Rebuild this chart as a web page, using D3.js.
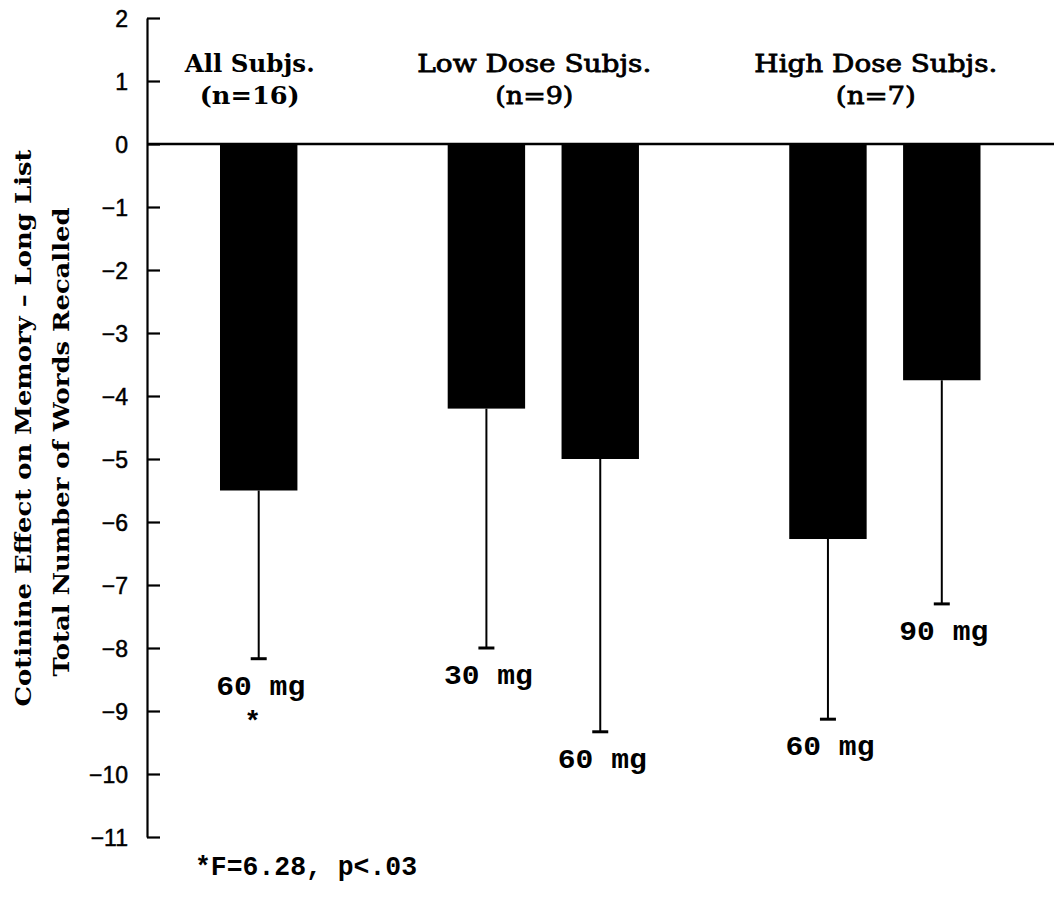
<!DOCTYPE html>
<html>
<head>
<meta charset="utf-8">
<script src="https://cdn.jsdelivr.net/npm/d3@7"></script>
<style>
  html, body { margin: 0; padding: 0; background: #fff; }
  svg { display: block; }
</style>
</head>
<body>
<script>
// ---------------- data ----------------
const groupNames   = ["All Subjs.", "Low Dose Subjs.", "High Dose Subjs."];
const groupCounts  = ["(n=16)", "(n=9)", "(n=7)"];
const groupBars    = [["All-60"], ["Low-30", "Low-60"], ["High-60", "High-90"]];
const barIds       = ["All-60", "Low-30", "Low-60", "High-60", "High-90"];
const doseLabels   = ["60 mg", "30 mg", "60 mg", "60 mg", "90 mg"];
const meanValues   = [-5.5, -4.2, -5.0, -6.27, -3.75];
const errorLower   = [-8.17, -8.0, -9.33, -9.13, -7.3];
const yTickValues  = [2, 1, 0, -1, -2, -3, -4, -5, -6, -7, -8, -9, -10, -11];
const significant  = [true, false, false, false, false];
const yTitleLines  = ["Cotinine Effect on Memory \u2013 Long List", "Total Number of Words Recalled"];
const footnote     = "*F=6.28, p<.03";

// slots: bars plus spacer slots between groups
const slots = [];
groupBars.forEach((g, i) => { if (i > 0) slots.push("gap" + i); g.forEach(b => slots.push(b)); });

const W = 1054, H = 903;
const svg = d3.select("body").append("svg").attr("width", W).attr("height", H);

const axisX = 147;
const y = d3.scaleLinear().domain([-11, 2]).range([837, 18]);
const x = d3.scaleBand().domain(slots).range([220, 980.5]).paddingInner(0.32).paddingOuter(0);

const serif = "'DejaVu Serif', serif";
const mono  = "'Liberation Mono', 'DejaVu Sans Mono', monospace";
const sans  = "'Liberation Sans', Arial, sans-serif";

// ---------- y axis ----------
const yAxis = d3.axisLeft(y).tickValues(yTickValues).tickSizeInner(-13).tickSizeOuter(0).tickPadding(19)
  .tickFormat(d3.format("d"));
const gAxis = svg.append("g").attr("transform", `translate(${axisX},0)`).call(yAxis);
gAxis.select(".domain").attr("stroke", "#000").attr("stroke-width", 2.2);
gAxis.selectAll(".tick line").attr("stroke", "#000").attr("stroke-width", 2.2);
gAxis.selectAll(".tick text").attr("fill", "#000").attr("font-family", sans).attr("font-size", 23)
  .attr("stroke", "#000").attr("stroke-width", 0.5).attr("dy", "0.36em");

// zero line
svg.append("line").attr("x1", axisX).attr("x2", W).attr("y1", y(0)).attr("y2", y(0))
  .attr("stroke", "#000").attr("stroke-width", 2.6);

// ---------- bars ----------
const bars = barIds.map((id, i) => ({ id, mean: meanValues[i], low: errorLower[i], label: doseLabels[i], sig: significant[i] }));

svg.append("g").selectAll("rect").data(bars).join("rect")
  .attr("x", d => x(d.id)).attr("width", x.bandwidth())
  .attr("y", y(0)).attr("height", d => y(d.mean) - y(0))
  .attr("fill", "#000");

// error bars (downward only)
const eg = svg.append("g");
eg.selectAll("line.err").data(bars).join("line").attr("class", "err")
  .attr("x1", d => x(d.id) + x.bandwidth() / 2).attr("x2", d => x(d.id) + x.bandwidth() / 2)
  .attr("y1", d => y(d.mean)).attr("y2", d => y(d.low))
  .attr("stroke", "#000").attr("stroke-width", 2);
eg.selectAll("line.cap").data(bars).join("line").attr("class", "cap")
  .attr("x1", d => x(d.id) + x.bandwidth() / 2 - 8).attr("x2", d => x(d.id) + x.bandwidth() / 2 + 8)
  .attr("y1", d => y(d.low)).attr("y2", d => y(d.low))
  .attr("stroke", "#000").attr("stroke-width", 3);

// dose labels
svg.append("g").selectAll("text").data(bars).join("text")
  .attr("x", d => x(d.id) + x.bandwidth() / 2 + 2)
  .attr("y", d => y(d.low) + 36)
  .attr("text-anchor", "middle")
  .attr("font-family", mono).attr("font-weight", "bold").attr("font-size", 28)
  .attr("textLength", 89).attr("lengthAdjust", "spacingAndGlyphs")
  .text(d => d.label);

// significance asterisk
svg.append("g").selectAll("text").data(bars.filter(d => d.sig)).join("text")
  .attr("x", d => x(d.id) + x.bandwidth() / 2 - 6)
  .attr("y", d => y(d.low) + 71)
  .attr("text-anchor", "middle")
  .attr("font-family", mono).attr("font-weight", "bold").attr("font-size", 28)
  .text("*");

// ---------- group headers ----------
const headerWidths = [130, 234, 243];
const countWidths = [100, 78, 80];
groupNames.forEach((name, i) => {
  const ids = groupBars[i];
  const cx = (x(ids[0]) + x(ids[ids.length - 1]) + x.bandwidth()) / 2 - 9;
  const bold = i === 0;
  svg.append("text").attr("x", cx).attr("y", 72).attr("text-anchor", "middle")
    .attr("font-family", serif).attr("font-size", 24).attr("font-weight", bold ? "bold" : "normal")
    .attr("stroke", "#000").attr("stroke-width", bold ? 0 : 0.8)
    .attr("textLength", headerWidths[i]).attr("lengthAdjust", "spacingAndGlyphs")
    .text(name);
  svg.append("text").attr("x", cx).attr("y", 104).attr("text-anchor", "middle")
    .attr("font-family", serif).attr("font-size", 24).attr("font-weight", bold ? "bold" : "normal")
    .attr("stroke", "#000").attr("stroke-width", bold ? 0 : 0.8)
    .attr("textLength", countWidths[i]).attr("lengthAdjust", "spacingAndGlyphs")
    .text(groupCounts[i]);
});

// ---------- y axis title ----------
const titlePos = [{ cx: 31, cy: 428, len: 557 }, { cx: 69, cy: 442, len: 469 }];
yTitleLines.forEach((t, i) => {
  svg.append("text")
    .attr("transform", `translate(${titlePos[i].cx},${titlePos[i].cy}) rotate(-90)`)
    .attr("text-anchor", "middle")
    .attr("font-family", serif).attr("font-weight", "bold").attr("font-size", 23)
    .attr("textLength", titlePos[i].len).attr("lengthAdjust", "spacingAndGlyphs")
    .text(t);
});

// ---------- footnote ----------
svg.append("text").attr("x", 195).attr("y", 875)
  .attr("font-family", mono).attr("font-weight", "bold").attr("font-size", 27)
  .attr("textLength", 222).attr("lengthAdjust", "spacingAndGlyphs")
  .text(footnote);
</script>
</body>
</html>
